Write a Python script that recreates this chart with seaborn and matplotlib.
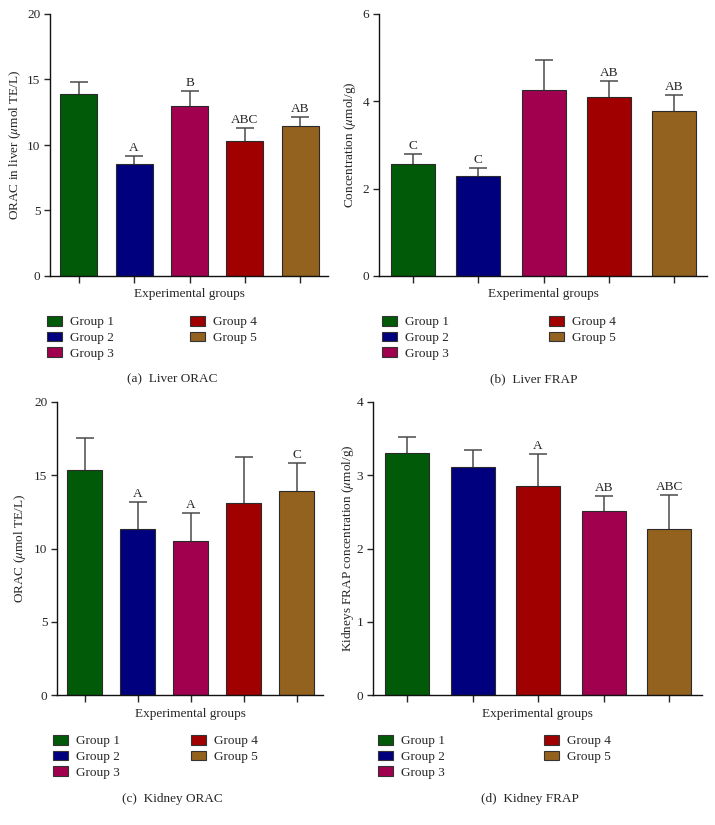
import matplotlib
matplotlib.use("Agg")
import matplotlib.pyplot as plt
import seaborn as sns
import pandas as pd
from matplotlib.patches import Patch

# ---------------- data ----------------
groups = ["Group 1", "Group 2", "Group 3", "Group 4", "Group 5"]
group_colors = ["#015A07", "#00007E", "#A0004E", "#A00000", "#94621F"]

liver_orac_mean = [13.9, 8.53, 12.98, 10.33, 11.43]
liver_orac_sd = [0.93, 0.63, 1.14, 0.99, 0.71]
liver_orac_letters = ["", "A", "B", "ABC", "AB"]

liver_frap_mean = [2.56, 2.30, 4.27, 4.11, 3.79]
liver_frap_sd = [0.24, 0.18, 0.68, 0.36, 0.36]
liver_frap_letters = ["C", "C", "", "AB", "AB"]

kidney_orac_mean = [15.34, 11.32, 10.52, 13.13, 13.90]
kidney_orac_sd = [2.18, 1.84, 1.93, 3.09, 1.91]
kidney_orac_letters = ["", "A", "A", "", "C"]

kidney_frap_mean = [3.30, 3.11, 2.86, 2.51, 2.27]
kidney_frap_sd = [0.22, 0.24, 0.43, 0.21, 0.46]
kidney_frap_letters = ["", "", "A", "AB", "ABC"]
# bar colours as shown in panel (d) (third and fourth swapped in the original)
kidney_frap_bar_colors = ["#015A07", "#00007E", "#A00000", "#A0004E", "#94621F"]

# ---------------- style ----------------
sns.set_theme(style="ticks")
plt.rcParams["font.family"] = ["Liberation Serif", "DejaVu Serif"]
plt.rcParams["mathtext.fontset"] = "stix"
FS = 9.5

W, H = 715, 825
fig = plt.figure(figsize=(W / 100, H / 100), dpi=100)


def px_axes(left, right, top, bottom):
    return fig.add_axes([left / W, 1 - bottom / H, (right - left) / W, (bottom - top) / H])


panels = [
    dict(box=(50, 328, 14, 276), mean=liver_orac_mean, sd=liver_orac_sd, letters=liver_orac_letters,
         colors=group_colors, ylim=20, yticks=[0, 5, 10, 15, 20],
         ylabel=r"ORAC in liver ($\mu$mol TE/L)", ylab_x=15, xlab_y=294,
         leg=(47, 316), leg_col2=190, cap="(a)  Liver ORAC", cap_x=172, cap_y=379),
    dict(box=(379, 707, 14, 276), mean=liver_frap_mean, sd=liver_frap_sd, letters=liver_frap_letters,
         colors=group_colors, ylim=6, yticks=[0, 2, 4, 6],
         ylabel=r"Concentration ($\mu$mol/g)", ylab_x=350, xlab_y=294,
         leg=(382, 316), leg_col2=549, cap="(b)  Liver FRAP", cap_x=534, cap_y=379),
    dict(box=(57, 323, 402, 695), mean=kidney_orac_mean, sd=kidney_orac_sd, letters=kidney_orac_letters,
         colors=group_colors, ylim=20, yticks=[0, 5, 10, 15, 20],
         ylabel=r"ORAC ($\mu$mol TE/L)", ylab_x=20, xlab_y=714,
         leg=(53, 735), leg_col2=191, cap="(c)  Kidney ORAC", cap_x=172, cap_y=799),
    dict(box=(373, 702, 402, 695), mean=kidney_frap_mean, sd=kidney_frap_sd, letters=kidney_frap_letters,
         colors=kidney_frap_bar_colors, ylim=4, yticks=[0, 1, 2, 3, 4],
         ylabel=r"Kidneys FRAP concentration ($\mu$mol/g)", ylab_x=348, xlab_y=714,
         leg=(378, 735), leg_col2=544, cap="(d)  Kidney FRAP", cap_x=530, cap_y=799),
]

for p in panels:
    l, r, t, b = p["box"]
    ax = px_axes(l, r, t, b)
    df = pd.DataFrame({"group": groups, "value": p["mean"]})
    sns.barplot(data=df, x="group", y="value", hue="group", palette=p["colors"],
                legend=False, width=0.67, edgecolor="#2a2a2a", linewidth=0.8,
                saturation=1, ax=ax, zorder=2)
    xs = list(range(len(groups)))
    _, caplines, _ = ax.errorbar(xs, p["mean"], yerr=[[0] * len(xs), p["sd"]], fmt="none",
                                 ecolor="#4a4a4a", elinewidth=1.1, capsize=6.8, capthick=1.1,
                                 zorder=1)
    # keep only the upper caps
    for cl in caplines:
        ys = list(cl.get_ydata())
        if all(abs(a - m) < 1e-9 for a, m in zip(ys, p["mean"])):
            cl.set_visible(False)
    for x, m, s, lab in zip(xs, p["mean"], p["sd"], p["letters"]):
        if lab:
            ax.annotate(lab, (x, m + s), xytext=(0, 1.5), textcoords="offset points",
                        ha="center", va="bottom", fontsize=FS)
    ax.set_xlim(-0.52, 4.5)
    ax.set_ylim(0, p["ylim"])
    ax.set_yticks(p["yticks"])
    ax.set_xticks(xs)
    ax.set_xticklabels([])
    sns.despine(ax=ax)
    for sp in ["left", "bottom"]:
        ax.spines[sp].set_linewidth(1.0)
        ax.spines[sp].set_color("#111111")
    ax.tick_params(axis="y", length=4, width=1.0, pad=3, labelsize=FS, direction="out")
    ax.tick_params(axis="x", length=5, width=1.0, direction="out")
    ax.set_xlabel("Experimental groups", fontsize=FS, va="center")
    ax.xaxis.set_label_coords(0.5, -(p["xlab_y"] - b) / (b - t))
    ax.set_ylabel(p["ylabel"], fontsize=FS, va="center")
    ax.yaxis.set_label_coords((p["ylab_x"] - l) / (r - l), 0.5)

    handles = [Patch(facecolor=c, edgecolor="#333333", linewidth=0.8) for c in group_colors]
    lx, ly = p["leg"]
    fig.legend(handles[:3], groups[:3], loc="upper left", bbox_to_anchor=(lx / W, 1 - ly / H),
               frameon=False, fontsize=FS, handlelength=1.15, handleheight=0.75,
               handletextpad=0.6, labelspacing=0.25, borderpad=0, borderaxespad=0)
    fig.legend(handles[3:], groups[3:], loc="upper left",
               bbox_to_anchor=(p["leg_col2"] / W, 1 - ly / H),
               frameon=False, fontsize=FS, handlelength=1.15, handleheight=0.75,
               handletextpad=0.6, labelspacing=0.25, borderpad=0, borderaxespad=0)
    fig.text(p["cap_x"] / W, 1 - p["cap_y"] / H, p["cap"], ha="center", va="center", fontsize=FS)

fig.savefig("out.png", dpi=100)
